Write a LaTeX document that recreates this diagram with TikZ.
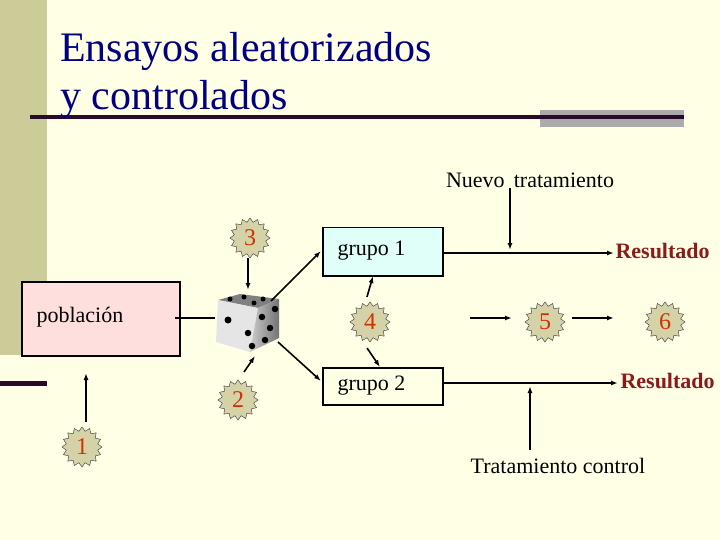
\documentclass[tikz,border=0pt]{standalone}
\usepackage{fontspec}
\setmainfont{Liberation Serif}
\usetikzlibrary{shapes.geometric,arrows.meta}
\definecolor{bg}{HTML}{FFFFE6}
\definecolor{olive}{HTML}{CCCC99}
\definecolor{navy}{HTML}{000080}
\definecolor{darkline}{HTML}{2A0A2A}
\definecolor{resred}{HTML}{8B1A1A}
\definecolor{numred}{HTML}{CC3300}
\definecolor{starfill}{HTML}{D6D2A8}
\tikzset{
  starnode/.style={star, star points=16, star point ratio=1.25, minimum size=40pt, inner sep=0pt, fill=starfill, draw=black!70, line width=0.5pt, text=numred, font=\fontsize{24}{24}\selectfont},
  boxnode/.style={draw=black, line width=1.5pt, anchor=north west, inner sep=0pt},
  lbl/.style={font=\fontsize{22}{24}\selectfont, text=black},
  res/.style={font=\bfseries\fontsize{22}{24}\selectfont, text=resred},
  arr/.style={-{Latex[length=7pt,width=5pt]}, line width=1.6pt},
  ln/.style={line width=1.6pt},
  dot/.style={circle, fill=black, inner sep=0pt, minimum size=7pt}
}
\begin{document}
\begin{tikzpicture}[x=1pt,y=-1pt]
\fill[bg] (0,0) rectangle (720,540);
\useasboundingbox (0,0) rectangle (720,540);
\fill[olive] (0,0) rectangle (47,355);
\fill[darkline] (0,381) rectangle (47,386);
\fill[black!33] (540,110) rectangle (684,127);
\fill[darkline] (30,115) rectangle (684,119);
\node[anchor=base west, text=navy, font=\fontsize{42}{44}\selectfont, inner sep=0pt] (t1) at (60,62) {Ensayos aleatorizados};
\node[anchor=base west, text=navy, font=\fontsize{42}{44}\selectfont, inner sep=0pt] (t2) at (60,110) {y controlados};
% boxes
\node[boxnode, fill=red!13, minimum width=158pt, minimum height=74pt] (pop) at (21,281) {};
\node[lbl, anchor=west] (popt) at (33,317) {población};
\node[boxnode, fill=green!20!cyan!12, minimum width=120pt, minimum height=48pt] (g1) at (322,227) {};
\node[lbl, anchor=west] (g1t) at (334,251) {grupo 1};
\node[boxnode, fill=bg, minimum width=120pt, minimum height=37pt] (g2) at (322,367) {};
\node[lbl, anchor=west] (g2t) at (334,386) {grupo 2};
% die
\fill[black!50] (218,300) -- (240,294) -- (279,299) -- (258,308) -- cycle;
\fill[black!10] (218,300) -- (258,308) -- (250,352) -- (216,342) -- cycle;
\shade[left color=black!20, right color=black!55] (258,308) -- (279,299) -- (279,338) -- (250,352) -- cycle;
\foreach \p in {(230,299),(244,297),(254,303),(263,299)}
  \node[dot, minimum size=5pt] at \p {};
\node[dot] at (228,320) {};
\foreach \p in {(262,317),(270,328),(248,333),(275,309),(265,340),(252,346)}
  \node[dot, minimum size=6.5pt] at \p {};
% stars
\node[starnode] (s3) at (250,238) {3};
\node[starnode] (s2) at (238,400) {2};
\node[starnode] (s4) at (370,322) {4};
\node[starnode] (s1) at (82,447) {1};
\node[starnode] (s5) at (545,322) {5};
\node[starnode] (s6) at (665,322) {6};
% texts
\node[lbl] (nt) at (530,180) {Nuevo\, tratamiento};
\node[lbl] (tc) at (558,466) {Tratamiento control};
\node[res, anchor=west] (r1) at (612,251) {Resultado};
\node[res, anchor=west] (r2) at (617,381) {Resultado};
% connectors
\coordinate (pe) at (175,318);
\coordinate (de) at (215,318);
\draw[ln] (pe) -- (de);
\draw[arr] (248,258) -- (248,290);
\draw[arr] (244,372) -- (255,356);
\draw[arr] (271,301) -- (321,251);
\draw[arr] (278,342) -- (321,381);
\draw[arr] (367,297) -- (373,276);
\draw[arr] (367,348) -- (380,367);
\draw[arr] (86,422) -- (86,373);
\draw[arr] (g1.east |- 0,253) -- (614,253);
\draw[arr] (g2.east |- 0,383) -- (618,383);
\draw[arr] (510,188) -- (510,250);
\draw[arr] (530,450) -- (530,386);
\draw[arr] (470,318) -- (512,318);
\draw[arr] (572,318) -- (614,318);
\end{tikzpicture}
\end{document}
